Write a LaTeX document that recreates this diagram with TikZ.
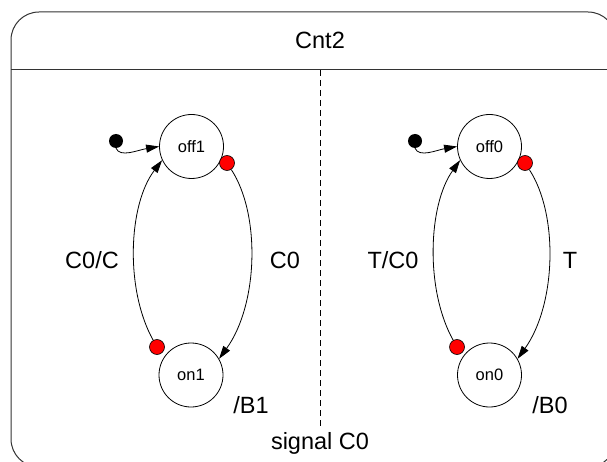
\documentclass[tikz,border=0pt]{standalone}
\usepackage{fontspec}
\setmainfont{Liberation Sans}
\usetikzlibrary{arrows.meta}
\begin{document}
\begin{tikzpicture}[x=1pt,y=-1pt,
  statebox/.style={circle,draw,line width=0.8pt,minimum size=64pt,inner sep=0pt,font=\fontsize{16.5}{16.5}\selectfont},
  reddot/.style={circle,draw,fill=red,line width=0.6pt,minimum size=15pt,inner sep=0pt},
  initdot/.style={circle,fill=black,minimum size=14pt,inner sep=0pt},
  trans/.style={line width=0.8pt,-{Triangle[length=13pt,width=8pt]}},
  lbl/.style={font=\fontsize{23.5}{23.5}\selectfont}]
\useasboundingbox (0,0) rectangle (607,462);
\begin{scope}
\clip (0,0) rectangle (607,462);
\draw[line width=1pt,black!80,rounded corners=28pt] (11,12) rectangle (616,467);
\draw[line width=1pt,black!80] (11,70) -- (616,70);
\end{scope}
\node[lbl] (title) at (320,40) {Cnt2};
\coordinate (dtop) at (320,70);
\coordinate (dbot) at (320,428);
\draw[line width=0.8pt,dash pattern=on 6pt off 4pt] (dtop) -- (dbot);
\node[lbl] (sig) at (320,443) {signal C0};
% left region
\node[statebox] (off1) at (191.5,146.5) {off1};
\node[statebox] (on1) at (191,375) {on1};
\node[initdot] (i1) at (116,141) {};
\node[reddot] (r1) at (227,163) {};
\node[reddot] (r2) at (157,347) {};
\draw[trans] (i1.south) .. controls (120,158) and (138,150) .. (off1.west);
\draw[trans] (r1) .. controls (261,215) and (258,305) .. (on1.30);
\draw[trans] (r2) .. controls (125,290) and (128,205) .. (off1.205);
\node[lbl] (l1) at (92,260) {C0/C};
\node[lbl] (l2) at (285,260) {C0};
\node[lbl] (l3) at (251,405) {/B1};
% right region
\node[statebox] (off0) at (489.5,146.5) {off0};
\node[statebox] (on0) at (489.5,375) {on0};
\node[initdot] (i0) at (415,141) {};
\node[reddot] (r3) at (525,163) {};
\node[reddot] (r4) at (457,347) {};
\draw[trans] (i0.south) .. controls (419,158) and (437,150) .. (off0.west);
\draw[trans] (r3) .. controls (559,215) and (556,305) .. (on0.30);
\draw[trans] (r4) .. controls (425,290) and (428,205) .. (off0.205);
\node[lbl] (l4) at (393,260) {T/C0};
\node[lbl] (l5) at (570,260) {T};
\node[lbl] (l6) at (550,405) {/B0};
\end{tikzpicture}
\end{document}
